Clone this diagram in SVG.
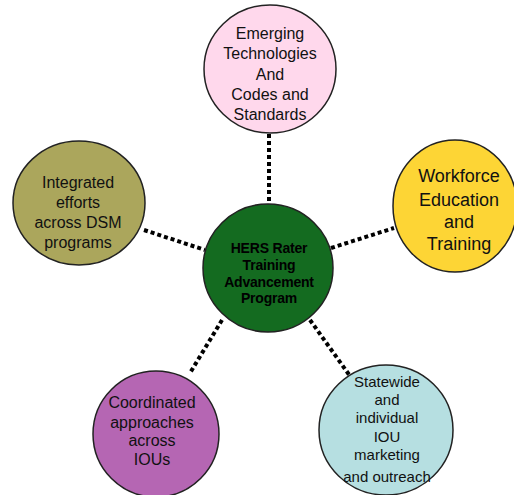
<svg xmlns="http://www.w3.org/2000/svg" width="514" height="495" viewBox="0 0 514 495">
<style>
.n{stroke:#222;stroke-width:1.5}
.t{font-family:"Liberation Sans",Arial,sans-serif;font-size:16px;fill:#111;text-anchor:middle}
.c{stroke:#000;stroke-width:4;stroke-dasharray:4 3;fill:none}
</style>
<rect width="514" height="495" fill="#fff"/>
<g id="connectors">
<line class="c" x1="269" y1="134" x2="269" y2="204"/>
<line class="c" x1="144" y1="230" x2="205" y2="250"/>
<line class="c" x1="331" y1="248" x2="394" y2="228"/>
<line class="c" x1="222" y1="320" x2="190" y2="373"/>
<line class="c" x1="310" y1="320" x2="350" y2="376"/>
</g>
<g id="top">
<ellipse class="n" cx="270" cy="69" rx="66" ry="64" fill="#ffd8ec"/>
<text class="t" x="270" y="39">Emerging</text>
<text class="t" x="270" y="59">Technologies</text>
<text class="t" x="270" y="80">And</text>
<text class="t" x="270" y="100">Codes and</text>
<text class="t" x="270" y="120">Standards</text>
</g>
<g id="left">
<ellipse class="n" cx="79" cy="203" rx="66" ry="62" fill="#aba65c"/>
<text class="t" x="78" y="188">Integrated</text>
<text class="t" x="78" y="208">efforts</text>
<text class="t" x="78" y="228">across DSM</text>
<text class="t" x="78" y="248">programs</text>
</g>
<g id="right">
<ellipse class="n" cx="455" cy="206" rx="62" ry="66" fill="#fdd535"/>
<text class="t" x="459" y="182" style="font-size:18px">Workforce</text>
<text class="t" x="459" y="206" style="font-size:18px">Education</text>
<text class="t" x="459" y="228" style="font-size:18px">and</text>
<text class="t" x="459" y="250" style="font-size:18px">Training</text>
</g>
<g id="center">
<ellipse class="n" cx="268" cy="268" rx="65" ry="64" fill="#146b20"/>
<g style="font-family:'Liberation Sans',Arial,sans-serif;font-size:14px;font-weight:bold;fill:#000;text-anchor:middle;letter-spacing:-0.2px">
<text x="269" y="253">HERS Rater</text>
<text x="269" y="270">Training</text>
<text x="269" y="287">Advancement</text>
<text x="269" y="303">Program</text>
</g>
</g>
<g id="bottomleft">
<circle class="n" cx="156" cy="434" r="63" fill="#b566b3"/>
<text class="t" x="152" y="408">Coordinated</text>
<text class="t" x="152" y="428">approaches</text>
<text class="t" x="152" y="446">across</text>
<text class="t" x="152" y="465">IOUs</text>
</g>
<g id="bottomright">
<ellipse class="n" cx="386" cy="430" rx="67" ry="65" fill="#b6dfe1"/>
<g class="t" style="font-size:15px">
<text x="387" y="387">Statewide</text>
<text x="387" y="405">and</text>
<text x="387" y="423">individual</text>
<text x="387" y="442">IOU</text>
<text x="387" y="460">marketing</text>
<text x="387" y="482">and outreach</text>
</g>
</g>
</svg>
